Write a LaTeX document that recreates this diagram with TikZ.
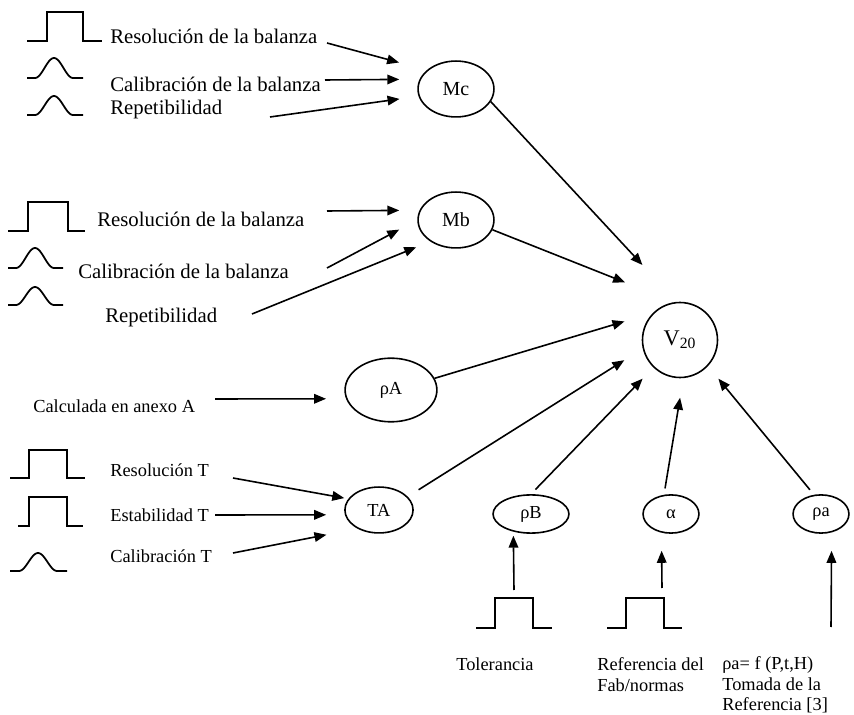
\documentclass[tikz,border=0pt]{standalone}
\usepackage{fontspec}
\setmainfont{Liberation Serif}
\usetikzlibrary{shapes.geometric, arrows.meta}
\tikzstyle{var} = [ellipse, draw=black, line width=1pt, inner sep=0pt, text centered, font=\fontsize{11.5}{13.5}\selectfont]
\tikzstyle{lab} = [anchor=base west, inner sep=0pt, font=\fontsize{13}{15}\selectfont]
\tikzstyle{labs} = [anchor=base west, inner sep=0pt, font=\fontsize{11.5}{13}\selectfont]
\tikzstyle{pulse} = [line width=1.1pt]
\tikzstyle{arrow} = [line width=1pt,->,>={Triangle[length=7.5pt,width=6pt]}]

\begin{document}
\begin{tikzpicture}[x=0.022cm, y=-0.022cm]
\useasboundingbox (0,0) rectangle (854,715);

%Variables
\node (mc) [var, minimum width=1.67cm, minimum height=1.23cm, font=\fontsize{12.5}{14}\selectfont] at (456,89) {Mc};
\node (mb) [var, minimum width=1.67cm, minimum height=1.23cm, font=\fontsize{12.5}{14}\selectfont] at (456,220) {Mb};
\node (v20) [circle, draw=black, line width=1pt, minimum size=1.65cm, inner sep=0pt, font=\fontsize{14}{16}\selectfont] at (680,340) {V\textsubscript{20}};
\node (rhoA) [var, minimum width=2.02cm, minimum height=1.4cm] at (391,390) {ρA};
\node (ta) [var, minimum width=1.5cm, minimum height=1.01cm] at (379,510) {TA};
\node (rhoB) [var, minimum width=1.67cm, minimum height=0.84cm] at (531,514) {ρB};
\node (alpha) [var, minimum width=1.23cm, minimum height=0.84cm] at (671,514) {α};
\node (rhoa) [var, minimum width=1.23cm, minimum height=0.84cm] at (821,514) {ρa};

%Mc
\draw [pulse] (27,41) -- (47,41) -- (47,12) -- (83,12) -- (83,41) -- (102,41);
\draw [pulse] (27,78) -- (35,78) plot [domain=-19:19, samples=31, smooth] ({54+\x}, {78-10*(1+cos(180*\x/19))}) -- (83,78);
\draw [pulse] (27,115) -- (35,115) plot [domain=-19:19, samples=31, smooth] ({54+\x}, {115-9.5*(1+cos(180*\x/19))}) -- (83,115);
\node (res_a) [lab] at (110,44) {Resolución de la balanza};
\node (cal_a) [lab] at (110,92) {Calibración de la balanza};
\node (rep_a) [lab] at (110,115) {Repetibilidad};
\coordinate (res_a_out) at (327,43);
\coordinate (cal_a_out) at (325,80);
\coordinate (rep_a_out) at (270,117);

%Mb
\draw [pulse] (8,231) -- (28,231) -- (28,202) -- (68,202) -- (68,231) -- (85,231);
\draw [pulse] (8,268) -- (16,268) plot [domain=-19:19, samples=31, smooth] ({35+\x}, {268-10*(1+cos(180*\x/19))}) -- (63,268);
\draw [pulse] (8,305) -- (16,305) plot [domain=-19:19, samples=31, smooth] ({35+\x}, {305-9*(1+cos(180*\x/19))}) -- (63,305);
\node (res_b) [lab] at (97,227) {Resolución de la balanza};
\node (cal_b) [lab] at (78,279) {Calibración de la balanza};
\node (rep_b) [lab] at (105,323) {Repetibilidad};
\coordinate (res_b_out) at (327,211);
\coordinate (cal_b_out) at (327,268);
\coordinate (rep_b_out) at (252,314);

%rhoA
\node (calc) [labs] at (33,413) {Calculada en anexo A};
\coordinate (calc_out) at (215,399);

%TA
\draw [pulse] (10,478) -- (29,478) -- (29,450) -- (67,450) -- (67,478) -- (85,478);
\draw [pulse] (18,526) -- (29,526) -- (29,497) -- (67,497) -- (67,526) -- (83,526);
\draw [pulse] (10,571) -- (19,571) plot [domain=-19:19, samples=31, smooth] ({38+\x}, {571-9*(1+cos(180*\x/19))}) -- (67,571);
\node (res_t) [labs] at (110,477) {Resolución T};
\node (est_t) [labs] at (110,522) {Estabilidad T};
\node (cal_t) [labs] at (110,563) {Calibración T};
\coordinate (res_t_out) at (233,478);
\coordinate (est_t_out) at (215,515);
\coordinate (cal_t_out) at (233,553);

%Bottom
\draw [pulse] (476,628) -- (495,628) -- (495,598) -- (533,598) -- (533,628) -- (552,628);
\draw [pulse] (607,628) -- (626,628) -- (626,598) -- (664,598) -- (664,628) -- (682,628);
\node (tol) [labs] at (456,671) {Tolerancia};
\node (ref_fab) [labs, anchor=north west, align=left] at (597,657) {Referencia del\\Fab/normas};
\node (rhoa_txt) [labs, anchor=north west, align=left] at (722,656) {ρa= f (P,t,H)\\Tomada de la\\Referencia [3]};
\coordinate (tol_out) at (514,590);
\coordinate (ref_out) at (662,588);
\coordinate (rhoa_out) at (831,627);

\draw [arrow, shorten >=18pt] (res_a_out) -- (mc.147);
\draw [arrow, shorten >=12.7pt] (cal_a_out) -- (mc.165);
\draw [arrow, shorten >=12pt] (rep_a_out) -- (mc.191);
\draw [arrow, shorten >=12.7pt] (res_b_out) -- (mb.165);
\draw [arrow, shorten >=12.8pt] (cal_b_out) -- (mb.west);
\draw [arrow, shorten >=9.5pt] (rep_b_out) -- (mb.220);
\draw [arrow, shorten >=12.5pt] (calc_out) -- (rhoA.191);
\draw [arrow, shorten >=2.5pt] (res_t_out) -- (ta.160);
\draw [arrow, shorten >=11.7pt] (est_t_out) -- (ta.188);
\draw [arrow, shorten >=19.8pt] (cal_t_out) -- (ta.221);

\draw [arrow, shorten >=31.5pt] (mc.-20) -- (v20.95);
\draw [arrow, shorten >=33.4pt] (mb.-15) -- (v20.98);
\draw [arrow, shorten >=18.6pt] (rhoA.15) -- (v20.135);
\draw [arrow, shorten <=8pt, shorten >=13.6pt] (ta.25) -- (v20.193);
\draw [arrow, shorten <=4pt, shorten >=9.7pt] (rhoB.north) -- (v20.226);
\draw [arrow, shorten <=4pt, shorten >=12.4pt] (alpha.110) -- (v20.-85);
\draw [arrow, shorten <=4pt, shorten >=10.2pt] (rhoa.110) -- (v20.-43);

\draw [arrow, shorten >=2.5pt] (tol_out) -- (rhoB.225);
\draw [arrow, shorten >=11.3pt] (ref_out) -- (alpha.243);
\draw [arrow, shorten >=11.5pt] (rhoa_out) -- (rhoa.-60);

\end{tikzpicture}
\end{document}
